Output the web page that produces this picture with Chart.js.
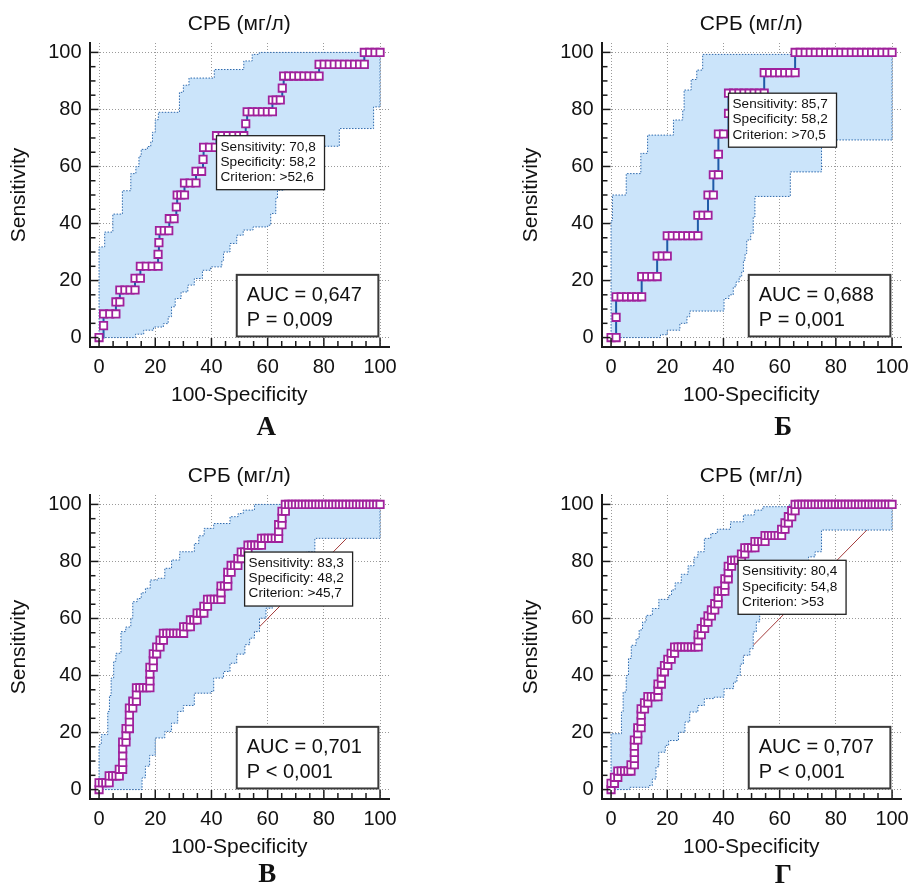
<!DOCTYPE html>
<html><head><meta charset="utf-8">
<script src="https://cdn.jsdelivr.net/npm/chart.js@4"></script>
<style>
html,body{margin:0;padding:0;background:#fff;overflow:hidden;}
#wrap{position:relative;width:917px;height:885px;overflow:hidden;background:#fff;}
canvas{position:absolute;}
</style></head><body>
<div id="wrap">
<canvas id="cA" width="405" height="442" style="left:0px;top:0px"></canvas>
<canvas id="cB" width="405" height="442" style="left:512px;top:0px"></canvas>
<canvas id="cV" width="405" height="442" style="left:0px;top:452px"></canvas>
<canvas id="cG" width="405" height="442" style="left:512px;top:452px"></canvas>
</div>
<script>
// ---------- DATA ----------
const axisTicks = [0, 20, 40, 60, 80, 100];
const diagX = [0, 100];
const diagY = [0, 100];

// Panel А
const rocA_sens = [0,4.2,8.3,12.5,16.7,20.8,25,29.2,33.3,37.5,41.7,45.8,50,54.2,58.3,62.5,66.7,70.8,75,79.2,83.3,87.5,91.7,95.8,100];
const rocA_fpr = [[0],[1.6],[1.6,3.8,6.0],[6.0,7.4],[7.4,9.2,11.0,12.8],[12.8,14.7],[14.7,16.8,18.9,21.0],[21.0],[21.3],[21.5,23.2,24.8],[25.0,26.7],[27.5],[27.8,29.1,30.4],[30.4,32.4,34.5],[34.5,36.5],[37.0],[37.2,39.3,41.4],[41.8,43.8,45.8,47.8,49.8,51.5],[52.2],[52.7,54.5,56.3,58.1,59.9,61.7],[61.7,63.0,64.5],[65.2],[65.7,67.5,69.3,71.1,72.9,74.7,76.5,78.3],[78.3,80.1,81.9,83.7,85.5,87.3,89.1,90.9,92.7,94.4],[94.4,96.3,98.2,100]];
const upA_x = [0,0,2.0,4.9,8.3,11.3,13.1,14.2,15.0,17.2,18.4,19.0,20.0,21.1,28.6,30.0,32.0,41.0,51.5,54.5,57.0,100];
const upA_y = [0,31.8,37.0,43.3,51.5,57.5,60.0,63.6,66.0,67.0,68.7,72.0,76.4,79.0,86.0,88.5,91.0,94.0,97.0,99.3,100,100];
const loA_x = [0,13.0,15.9,19.4,22.9,24.6,25.8,27.1,29.2,31.6,33.9,36.8,39.7,43.7,44.3,46.6,49.0,51.3,54.8,60.0,61.1,62.9,63.5,66.0,69.0,72.0,75.5,79.7,85.5,97.7,100];
const loA_y = [0,1.2,2.6,3.7,4.9,7.3,10.8,13.7,16.0,18.4,20.7,23.6,24.8,27.1,30.0,33.0,35.9,37.7,38.8,39.4,43.5,48.8,51.7,55.0,58.5,62.0,64.5,67.1,73.3,80.9,100];

// Panel Б
const rocB_sens = [0,7.1,14.3,21.4,28.6,35.7,42.9,50,57.1,64.3,71.4,78.6,85.7,92.9,100];
const rocB_fpr = [[0,1.8],[1.8],[1.8,3.6,5.5,7.3,9.1,10.9],[10.9,12.7,14.5,16.4],[16.4,18.2,20.0],[20.0,21.8,23.6,25.5,27.3,29.1,30.9],[30.9,32.7,34.5],[34.5,36.4],[36.4,38.2],[38.2],[38.2,40.0],[41.8],[41.8,43.6,45.5,47.3,49.1,50.9,52.7,54.5],[54.5,56.4,58.2,60.0,61.8,63.6,65.5],[65.5,67.3,69.1,70.9,72.7,74.5,76.4,78.2,80.0,81.8,83.6,85.5,87.3,89.1,90.9,92.7,94.5,96.4,98.2,100]];
const upB_x = [0,0,0.5,5.4,10.6,13.0,22.2,25.5,26.0,28.5,30.5,32.6,100];
const upB_y = [0,41.0,50.0,57.5,64.6,71.0,76.3,79.7,86.8,90.5,93.8,99.3,100];
const loB_x = [0,17.6,20.0,24.5,27.0,28.0,40.2,42.0,43.5,44.5,45.6,46.5,47.1,47.7,48.3,49.7,50.6,51.2,63.8,74.9,100];
const loB_y = [0,1.0,2.6,5.0,7.3,9.3,13.7,15.0,17.8,19.5,21.3,23.0,27.1,29.5,34.2,36.5,42.3,49.5,58.1,69.3,100];

// Panel В
const rocV_sens = [0,2.4,4.8,7.1,9.5,11.9,14.3,16.7,19.0,21.4,23.8,26.2,28.6,31.0,33.3,35.7,38.1,40.5,42.9,45.2,47.6,50.0,52.4,54.8,57.1,59.5,61.9,64.3,66.7,69.0,71.4,73.8,76.2,78.6,81.0,83.3,85.7,88.1,90.5,92.9,95.2,97.6,100];
const rocV_fpr = [[0],[0,1.2,2.4,3.6],[3.6,4.8,6.0,7.2],[7.2,8.4],[8.4],[8.4],[8.4],[8.4,9.6],[9.6],[9.6,10.8],[10.8],[10.8],[10.8,12.0],[12.0,13.3],[13.3],[13.3,14.5,15.7,16.9,18.1],[18.1],[18.1],[18.1,19.3],[19.3],[19.3,20.5],[20.5,21.7],[21.7,22.9],[22.9,24.1,25.3,26.5,27.7,28.9,30.1],[30.1,31.3,32.5],[32.5,33.7,34.9],[34.9,36.1,37.3],[37.3,38.6],[38.6,39.8,41.0,42.2,43.4],[43.4],[43.4,44.6,45.8],[45.8],[45.8,47.0],[47.0,48.2,49.4],[49.4,50.6],[50.6,51.8,53.0],[53.0,54.2,55.4,56.6,57.8],[57.8,59.0,60.2,61.4,62.7,63.9],[63.9],[63.9,65.1],[65.1],[65.1,66.3],[66.3,67.5,68.7,69.9,71.1,72.3,73.5,74.7,75.9,77.1,78.3,79.5,80.7,81.9,83.1,84.3,85.5,86.7,87.9,89.2,90.4,91.6,92.8,94.0,95.2,96.4,97.6,98.8,100]];
const upV_x = [0,0,0.8,3.1,3.7,4.3,5.2,6.0,7.8,9.5,11.3,12.0,13.6,15.0,16.5,18.2,21.1,23.4,25.8,28.7,33.9,35.5,37.4,40.8,46.6,49.5,51.3,55.3,100];
const upV_y = [0,15.8,19.3,27.4,33.0,39.1,45.0,47.8,55.4,57.0,60.1,65.9,67.0,69.0,70.6,73.5,74.1,77.6,80.5,83.4,86.3,89.0,91.6,93.3,95.7,96.8,98.0,100,100];
const loV_x = [0,14.7,15.3,16.5,18.0,20.0,23.4,25.8,28.0,30.0,33.9,39.7,40.8,44.3,46.6,49.0,51.9,53.6,55.3,57.1,59.4,61.7,63.5,67.5,71.0,73.9,76.8,100];
const loV_y = [0,0,4.1,8.2,12.0,18.1,20.4,23.3,27.4,29.5,33.8,34.4,39.1,41.4,44.3,47.5,50.8,53.1,55.4,60.1,63.6,69.4,78.8,79.9,81.5,83.4,88.1,100];

// Panel Г
const rocG_sens = [0,2.2,4.3,6.5,8.7,10.9,13.0,15.2,17.4,19.6,21.7,23.9,26.1,28.3,30.4,32.6,34.8,37.0,39.1,41.3,43.5,45.7,47.8,50.0,52.2,54.3,56.5,58.7,60.9,63.0,65.2,67.4,69.6,71.7,73.9,76.1,78.3,80.4,82.6,84.8,87.0,89.1,91.3,93.5,95.7,97.8,100];
const rocG_fpr = [[0],[0,1.2],[1.2,2.4],[2.4,3.6,4.8,6.0,7.1],[7.1,8.3],[8.3],[8.3],[8.3],[8.3,9.5],[9.5],[9.5,10.7],[10.7],[10.7],[10.7,11.9],[11.9,13.1],[13.1,14.3,15.5,16.7],[16.7],[16.7,17.9],[17.9],[17.9,19.0],[19.0,20.2],[20.2,21.4],[21.4,22.6],[22.6,23.8,25.0,26.2,27.4,28.6,29.8,31.0],[31.0],[31.0,32.1],[32.1,33.3],[33.3,34.5],[34.5,35.7],[35.7,36.9],[36.9,38.1],[38.1],[38.1,39.3,40.5],[40.5],[40.5,41.7],[41.7],[41.7,42.9],[42.9,44.0,45.2,46.4],[46.4,47.6],[47.6,48.8,50.0,51.2],[51.2,52.4,53.6,54.8],[54.8,56.0,57.1,58.3,59.5,60.7],[60.7,61.9],[61.9,63.1],[63.1,64.3],[64.3,65.5],[65.5,66.7,67.9,69.0,70.2,71.4,72.6,73.8,75.0,76.2,77.4,78.6,79.8,81.0,82.1,83.3,84.5,85.7,86.9,88.1,89.3,90.5,91.7,92.9,94.0,95.2,96.4,97.6,98.8,100]];
const upG_x = [0,0,3.7,4.3,5.4,6.2,7.2,8.9,10.0,11.2,12.5,14.7,17.0,20.5,21.5,22.8,25.0,27.4,29.5,30.9,33.2,35.5,37.8,42.5,47.1,51.0,54.0,63.3,100];
const upG_y = [0,19.6,27.2,34.2,40.0,46.0,50.6,52.9,56.0,58.8,61.1,63.5,66.7,68.1,70.0,72.5,75.5,78.5,81.5,83.4,88.1,89.8,91.3,93.9,96.3,98.0,99.2,99.8,100];
const loG_x = [0,6.6,13.5,14.7,16.0,17.0,19.3,20.5,24.0,26.3,28.0,30.9,33.2,36.7,40.2,43.6,44.8,46.0,47.1,49.4,50.6,51.7,52.9,56.0,60.0,64.0,68.0,70.3,72.6,74.9,100];
const loG_y = [0,0.8,1.4,3.7,8.0,13.1,15.5,17.2,20.1,23.7,27.2,29.5,31.9,32.4,35.4,37.7,40.0,44.0,47.1,49.4,55.3,58.8,62.3,66.0,70.0,74.0,78.0,81.6,83.4,91.0,100];

// Criterion points (100-Specificity, Sensitivity) and annotation texts
const critX = [41.8, 41.8, 51.8, 45.2];
const critY = [70.8, 85.7, 83.3, 80.4];
const critSens = ['70,8', '85,7', '83,3', '80,4'];
const critSpec = ['58,2', '58,2', '48,2', '54,8'];
const critCrit = ['>52,6', '>70,5', '>45,7', '>53'];
const aucText = ['0,647', '0,688', '0,701', '0,707'];
const pText = ['P = 0,009', 'P = 0,001', 'P < 0,001', 'P < 0,001'];
const letters = ['А', 'Б', 'В', 'Г'];
const titleText = 'СРБ (мг/л)';

// ---------- HELPERS ----------
const FONT = "'Liberation Sans', Arial, sans-serif";
function pairs(xs, ys) { return xs.map((x, i) => ({x: x, y: ys[i]})); }
function rocPoints(sens, fpr) {
  const out = [];
  sens.forEach((s, i) => fpr[i].forEach(f => out.push({x: f, y: s})));
  return out;
}

const decoPlugin = {
  id: 'deco',
  afterDatasetsDraw(chart, args, o) {
    const ctx = chart.ctx, ca = chart.chartArea;
    const xs = chart.scales.x, ys = chart.scales.y;
    ctx.save();
    // inward tick marks (major every 20, minor every 5)
    ctx.strokeStyle = '#1a1a1a';
    ctx.lineWidth = 1.5;
    for (let v = 0; v <= 100; v += 5) {
      const len = (v % 20 === 0) ? 9 : 6;
      const px = xs.getPixelForValue(v);
      ctx.beginPath(); ctx.moveTo(px, ca.bottom); ctx.lineTo(px, ca.bottom - len); ctx.stroke();
      const py = ys.getPixelForValue(v);
      ctx.beginPath(); ctx.moveTo(ca.left, py); ctx.lineTo(ca.left + len, py); ctx.stroke();
    }
    // criterion callout
    const cx = xs.getPixelForValue(o.cx), cy = ys.getPixelForValue(o.cy);
    const w = 108, h = 54;
    ctx.fillStyle = '#ffffff';
    ctx.fillRect(cx, cy, w, h);
    ctx.lineWidth = 1.3;
    ctx.strokeStyle = '#222';
    ctx.strokeRect(cx, cy, w, h);
    ctx.fillStyle = '#111';
    ctx.font = '13.6px ' + FONT;
    ctx.textAlign = 'left';
    ctx.textBaseline = 'alphabetic';
    o.lines.forEach((t, i) => ctx.fillText(t, cx + 4, cy + 15 + i * 15.2));
    // AUC box
    const bl = xs.getPixelForValue(49), br = xs.getPixelForValue(99.4);
    const bt = ys.getPixelForValue(22), bb = ys.getPixelForValue(0.4);
    ctx.fillStyle = '#ffffff';
    ctx.fillRect(bl, bt, br - bl, bb - bt);
    ctx.lineWidth = 2;
    ctx.strokeStyle = '#3a3a3a';
    ctx.strokeRect(bl, bt, br - bl, bb - bt);
    ctx.fillStyle = '#111';
    ctx.font = '20px ' + FONT;
    ctx.fillText(o.auc[0], bl + 10, bt + 26);
    ctx.fillText(o.auc[1], bl + 10, bt + 51);
    ctx.restore();
  },
  afterDraw(chart, args, o) {
    const ctx = chart.ctx, ca = chart.chartArea;
    const mid = (ca.left + ca.right) / 2;
    ctx.save();
    ctx.fillStyle = '#111';
    ctx.textAlign = 'center';
    ctx.textBaseline = 'alphabetic';
    ctx.font = '21px ' + FONT;
    ctx.fillText(o.title, mid, ca.top - 13.5);
    ctx.font = "bold 27px 'Liberation Serif', 'Times New Roman', serif";
    ctx.fillText(o.letter, mid + o.ldx, ca.top + o.ldy);
    ctx.restore();
  }
};

function makeChart(id, i, roc, upX, upY, loX, loY, ldx, ldy) {
  const datasets = [
    {data: pairs(diagX, diagY), borderColor: '#a33b3b', borderWidth: 1, pointRadius: 0, fill: false, order: 10},
    {data: pairs(upX, upY), stepped: true, borderColor: '#2f6aad', borderWidth: 1, borderDash: [1.5, 1.5],
      backgroundColor: '#cbe4fa', fill: '+1', pointRadius: 0, order: 5},
    {data: pairs(loX, loY), stepped: true, borderColor: '#2f6aad', borderWidth: 1, borderDash: [1.5, 1.5],
      fill: false, pointRadius: 0, order: 4},
    {data: roc, stepped: true, borderColor: '#1f5aa8', borderWidth: 2, fill: false,
      pointStyle: 'rect', pointRadius: 5.2, pointBackgroundColor: '#ffffff', pointBorderColor: '#a0219c',
      pointBorderWidth: 1.8, order: 1}
  ];
  const tickFont = {family: FONT, size: 20};
  return new Chart(document.getElementById(id), {
    type: 'line',
    data: {datasets: datasets},
    options: {
      responsive: false, animation: false, events: [], devicePixelRatio: 1,
      layout: {padding: {top: 43, right: 8.5, bottom: 0, left: 0}},
      plugins: {
        legend: {display: false}, tooltip: {enabled: false},
        deco: {
          cx: critX[i], cy: critY[i],
          lines: ['Sensitivity: ' + critSens[i], 'Specificity: ' + critSpec[i], 'Criterion: ' + critCrit[i]],
          auc: ['AUC = ' + aucText[i], pText[i]],
          title: titleText, letter: letters[i], ldx: ldx, ldy: ldy
        }
      },
      scales: {
        x: {
          type: 'linear', min: -3.4, max: 103.2,
          afterBuildTicks: s => { s.ticks = axisTicks.map(v => ({value: v})); },
          afterFit: s => { s.height = 95; },
          grid: {color: '#9a9a9a', lineWidth: 1, drawTicks: false},
          border: {display: true, color: '#1a1a1a', width: 2, dash: [1, 2]},
          ticks: {font: tickFont, color: '#111', padding: 8, maxRotation: 0, autoSkip: false},
          title: {display: true, text: '100-Specificity', color: '#111', font: {family: FONT, size: 21}, padding: {top: 0, bottom: 34}}
        },
        y: {
          type: 'linear', min: -3.3, max: 103.3,
          afterBuildTicks: s => { s.ticks = axisTicks.map(v => ({value: v})); },
          afterFit: s => { s.width = 89.5; },
          grid: {color: '#9a9a9a', lineWidth: 1, drawTicks: false},
          border: {display: true, color: '#1a1a1a', width: 2, dash: [1, 2]},
          ticks: {font: tickFont, color: '#111', padding: 8, autoSkip: false},
          title: {display: true, text: 'Sensitivity', color: '#111', font: {family: FONT, size: 21}, padding: {top: 7, bottom: 0}}
        }
      }
    },
    plugins: [decoPlugin]
  });
}

makeChart('cA', 0, rocPoints(rocA_sens, rocA_fpr), upA_x, upA_y, loA_x, loA_y, 27, 392);
makeChart('cB', 1, rocPoints(rocB_sens, rocB_fpr), upB_x, upB_y, loB_x, loB_y, 32, 392);
makeChart('cV', 2, rocPoints(rocV_sens, rocV_fpr), upV_x, upV_y, loV_x, loV_y, 28, 387);
makeChart('cG', 3, rocPoints(rocG_sens, rocG_fpr), upG_x, upG_y, loG_x, loG_y, 32, 388);
</script>
</body></html>
